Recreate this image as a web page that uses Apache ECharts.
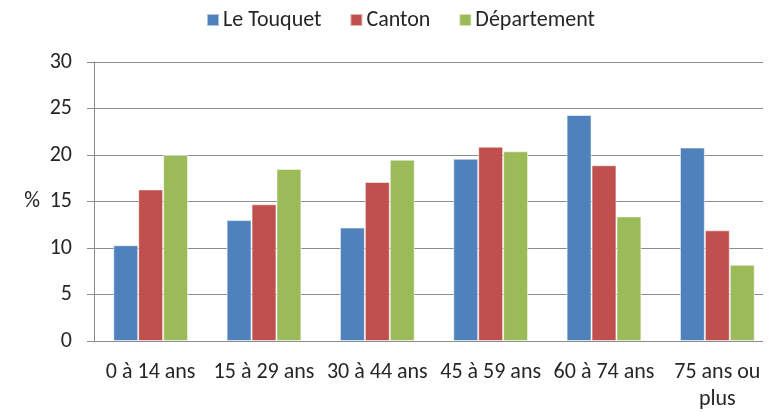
<!DOCTYPE html>
<html>
<head>
<meta charset="utf-8">
<script src="https://cdn.jsdelivr.net/npm/echarts@6/dist/echarts.min.js"></script>
<style>
  html, body { margin: 0; padding: 0; background: #fff; }
  #chart { width: 780px; height: 412px; }
</style>
</head>
<body>
<div id="chart"></div>
<script>
// tranches d'âge et parts de population (%)
const ageGroups = ['0 à 14 ans', '15 à 29 ans', '30 à 44 ans', '45 à 59 ans', '60 à 74 ans', '75 ans ou\nplus']
const leTouquet = [10.3, 13.0, 12.2, 19.6, 24.3, 20.8]
const canton = [16.3, 14.7, 17.1, 20.9, 18.9, 11.9]
const departement = [20.0, 18.5, 19.5, 20.4, 13.4, 8.2]
const yTicks = [0, 5, 10, 15, 20, 25, 30]

const font = 'Carlito, "Liberation Sans Narrow", "Liberation Sans", sans-serif'
const textColor = '#262626'
const gridColor = '#8c8c8c'

const chart = echarts.init(document.getElementById('chart'))

const barSeries = (name, data, color) => ({
  name,
  type: 'bar',
  data,
  barGap: '0%',
  barCategoryGap: '34%',
  itemStyle: { color, borderColor: 'rgba(255,255,255,0.55)', borderWidth: 1 }
})

chart.setOption({
  animation: false,
  textStyle: { fontFamily: font },
  legend: {
    top: 4,
    left: 201,
    itemWidth: 12,
    itemHeight: 12,
    itemGap: 28,
    icon: 'rect',
    textStyle: { fontSize: 22, color: textColor, fontFamily: font, padding: [0, 0, 0, -1] }
  },
  grid: { left: 94, right: 6, top: 62, bottom: 71, outerBoundsMode: 'none' },
  xAxis: {
    type: 'category',
    data: ageGroups,
    axisLine: { lineStyle: { color: gridColor } },
    axisTick: { length: 7, lineStyle: { color: gridColor } },
    axisLabel: {
      interval: 0,
      margin: 18,
      fontSize: 22,
      lineHeight: 27,
      color: textColor,
      fontFamily: font
    }
  },
  yAxis: {
    type: 'value',
    min: yTicks[0],
    max: yTicks[yTicks.length - 1],
    interval: 5,
    name: '%',
    nameLocation: 'middle',
    nameRotate: 0,
    nameGap: 54,
    nameTextStyle: { fontSize: 22, color: textColor, fontFamily: font },
    axisLine: { show: true, lineStyle: { color: gridColor } },
    axisTick: { show: true, inside: false, length: 7, lineStyle: { color: gridColor } },
    axisLabel: { margin: 22, fontSize: 22, color: textColor, fontFamily: font },
    splitLine: { lineStyle: { color: gridColor, width: 1 } }
  },
  series: [
    barSeries('Le Touquet', leTouquet, '#4f81bd'),
    barSeries('Canton', canton, '#c0504d'),
    barSeries('Département', departement, '#9bbb59')
  ],
  graphic: [
    // la zone de tracé est coupée à droite dans l'original
    { type: 'rect', right: 0, top: 55, z: 100, shape: { width: 17, height: 300 }, style: { fill: '#fff' } }
  ]
})
</script>
</body>
</html>
